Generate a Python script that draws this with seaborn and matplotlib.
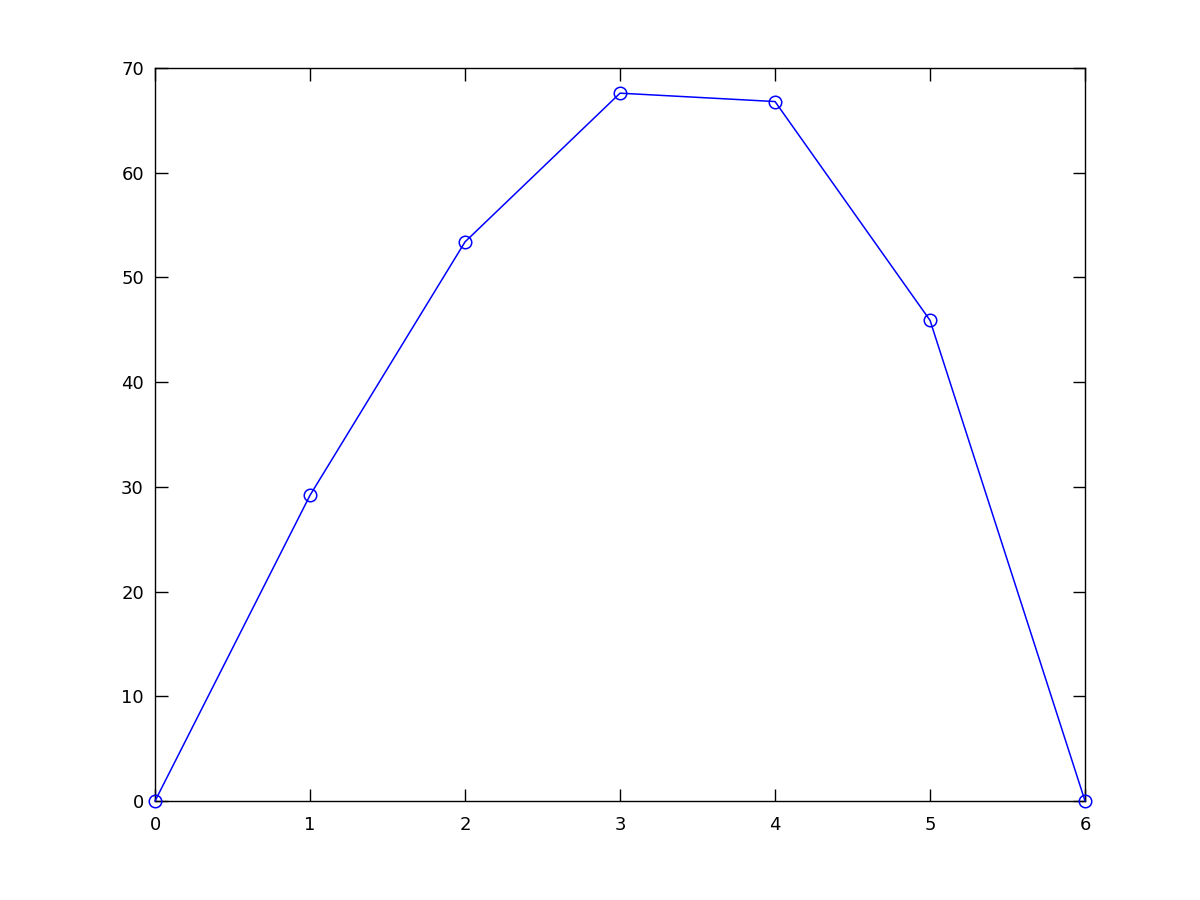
import pandas as pd
import seaborn as sns
import matplotlib
matplotlib.use("Agg")
import matplotlib.pyplot as plt

# data
x_vals = [0, 1, 2, 3, 4, 5, 6]
y_vals = [0, 29.2, 53.4, 67.6, 66.8, 45.9, 0]

sns.set_style("white")
plt.rcParams['font.family'] = ['DejaVu Sans']

df = pd.DataFrame({'x': x_vals, 'y': y_vals})

fig = plt.figure(figsize=(12, 9), dpi=100)
ax = fig.add_axes([0.1292, 0.11, 0.775, 0.8144])

sns.lineplot(data=df, x='x', y='y', ax=ax, color='blue', linewidth=1.1,
             marker='o', markersize=9, markerfacecolor='none',
             markeredgecolor='blue', markeredgewidth=1.1)
# let the end markers overhang the frame like the original
for ln in ax.lines:
    ln.set_clip_on(False)
    ln.set_zorder(5)

ax.set_xlim(0, 6)
ax.set_ylim(0, 70)
ax.set_xticks(range(0, 7))
ax.set_yticks(range(0, 71, 10))
ax.set_xlabel('')
ax.set_ylabel('')

for s in ax.spines.values():
    s.set_visible(True)
    s.set_color('black')
    s.set_linewidth(1.0)

ax.tick_params(direction='in', length=9, width=1, colors='black',
               labelsize=13, top=True, right=True, bottom=True, left=True)
ax.tick_params(axis='x', pad=11)
ax.tick_params(axis='y', pad=8)

plt.savefig('out.png', dpi=100)
